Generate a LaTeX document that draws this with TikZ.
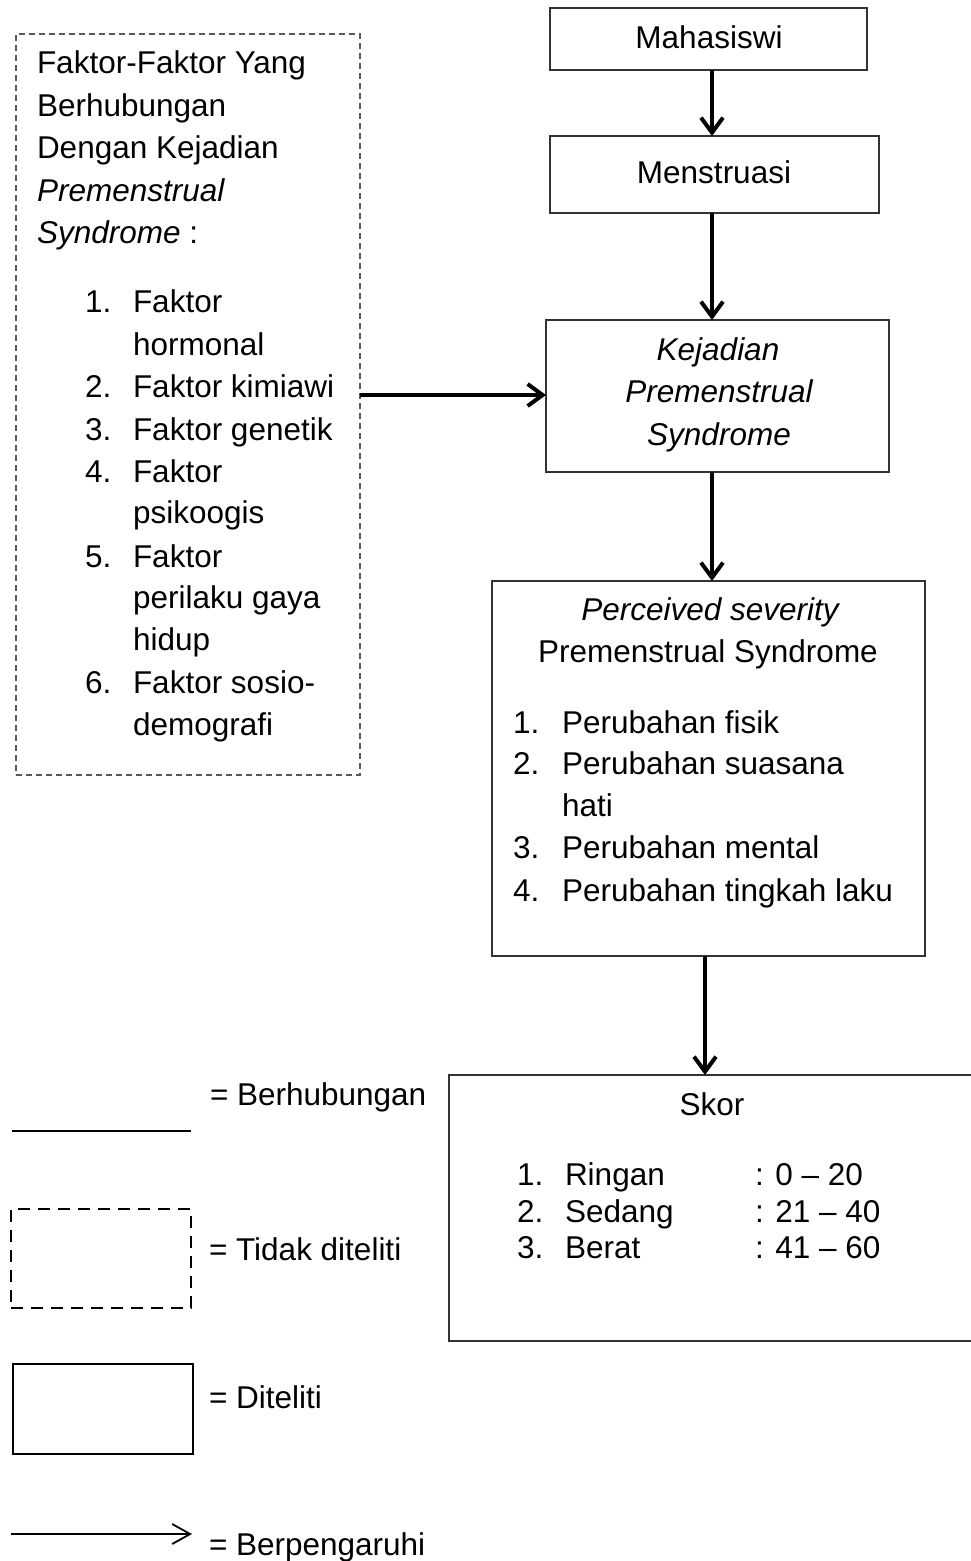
\documentclass[tikz,border=0pt]{standalone}
\usepackage{fontspec}
\setmainfont{Liberation Sans}
\usetikzlibrary{arrows.meta}
\begin{document}
\begin{tikzpicture}[x=1pt,y=-1pt,
  every node/.style={inner sep=0pt, outer sep=0pt},
  txt/.style={anchor=base west, font=\fontsize{31.5}{42.5}\selectfont},
  ctxt/.style={anchor=base, font=\fontsize{31.5}{42.5}\selectfont},
  box/.style={draw=black!80, line width=1.4pt, anchor=north west},
  dbox/.style={draw=black!65, line width=1.3pt, dash pattern=on 6pt off 4pt, anchor=north west},
  legdbox/.style={draw=black, line width=2pt, dash pattern=on 12pt off 8pt, anchor=north west},
  legbox/.style={draw=black, line width=2.2pt, anchor=north west},
  arr/.style={line width=4pt, -{Straight Barb[length=15pt,width=22pt]}},
  legarr/.style={line width=1.8pt, -{Straight Barb[length=18pt,width=20pt]}},
  legline/.style={line width=1.8pt}
]
\useasboundingbox (0,0) rectangle (971,1561);
\clip (0,0) rectangle (971,1561);
\fill[white] (0,0) rectangle (971,1561);

% boxes
\node[dbox, minimum width=344pt, minimum height=741pt] (fak) at (16,34) {};
\node[box, minimum width=317pt, minimum height=62pt] (mah) at (550,8) {};
\node[box, minimum width=329pt, minimum height=77pt] (men) at (550,136) {};
\node[box, minimum width=343pt, minimum height=152pt] (kej) at (546,320) {};
\node[box, minimum width=433pt, minimum height=375pt] (per) at (492,581) {};
\node[box, minimum width=540pt, minimum height=266pt] (skor) at (449,1075) {};

% box texts
\node[ctxt] (tmah) at (709,48) {Mahasiswi};
\node[ctxt] (tmen) at (714,183) {Menstruasi};
\node[ctxt] (tkej1) at (718,360) {\itshape Kejadian};
\node[ctxt] (tkej2) at (719,402) {\itshape Premenstrual};
\node[ctxt] (tkej3) at (719,445) {\itshape Syndrome};

\node[ctxt] (tper1) at (710,620) {\itshape Perceived severity};
\node[ctxt] (tper2) at (708,662) {Premenstrual Syndrome};
\node[txt] (pn1) at (513,733) {1.};
\node[txt] (pt1) at (562,733) {Perubahan fisik};
\node[txt] (pn2) at (513,774) {2.};
\node[txt] (pt2) at (562,774) {Perubahan suasana};
\node[txt] (pt2b) at (562,816) {hati};
\node[txt] (pn3) at (513,858) {3.};
\node[txt] (pt3) at (562,858) {Perubahan mental};
\node[txt] (pn4) at (513,901) {4.};
\node[txt] (pt4) at (562,901) {Perubahan tingkah laku};

\node[ctxt] (tskor) at (712,1115) {Skor};
\node[txt] (sn1) at (517,1185) {1.};
\node[txt] (st1) at (565,1185) {Ringan};
\node[txt] (sv1) at (755,1185) {: 0 – 20};
\node[txt] (sn2) at (517,1222) {2.};
\node[txt] (st2) at (565,1222) {Sedang};
\node[txt] (sv2) at (755,1222) {: 21 – 40};
\node[txt] (sn3) at (517,1258) {3.};
\node[txt] (st3) at (565,1258) {Berat};
\node[txt] (sv3) at (755,1258) {: 41 – 60};

% left box texts
\node[txt] (f1) at (37,73) {Faktor-Faktor Yang};
\node[txt] (f2) at (37,116) {Berhubungan};
\node[txt] (f3) at (37,158) {Dengan Kejadian};
\node[txt] (f4) at (37,201) {\itshape Premenstrual};
\node[txt] (f5) at (37,243) {\textit{Syndrome} :};
\node[txt] (fn1) at (85,312) {1.};
\node[txt] (ft1) at (133,312) {Faktor};
\node[txt] (ft1b) at (133,355) {hormonal};
\node[txt] (fn2) at (85,397) {2.};
\node[txt] (ft2) at (133,397) {Faktor kimiawi};
\node[txt] (fn3) at (85,440) {3.};
\node[txt] (ft3) at (133,440) {Faktor genetik};
\node[txt] (fn4) at (85,482) {4.};
\node[txt] (ft4) at (133,482) {Faktor};
\node[txt] (ft4b) at (133,523) {psikoogis};
\node[txt] (fn5) at (85,567) {5.};
\node[txt] (ft5) at (133,567) {Faktor};
\node[txt] (ft5b) at (133,608) {perilaku gaya};
\node[txt] (ft5c) at (133,650) {hidup};
\node[txt] (fn6) at (85,693) {6.};
\node[txt] (ft6) at (133,693) {Faktor sosio-};
\node[txt] (ft6b) at (133,735) {demografi};

% connectors
\coordinate (ax) at (712,0);
\coordinate (bx) at (705,0);
\coordinate (ay) at (0,395);
\draw[arr] (ax |- mah.south) -- (ax |- men.north);
\draw[arr] (ax |- men.south) -- (ax |- kej.north);
\draw[arr] (ax |- kej.south) -- (ax |- per.north);
\draw[arr] (bx |- per.south) -- (bx |- skor.north);
\draw[arr] (fak.east |- ay) -- (kej.west |- ay);

% legend
\coordinate (la) at (12,1131);
\coordinate (lb) at (191,1131);
\draw[legline] (la) -- (lb);
\node[txt] (lt1) at (210,1105) {= Berhubungan};
\node[legdbox, minimum width=180pt, minimum height=99pt] (ld) at (11,1209) {};
\node[txt] (lt2) at (209,1260) {= Tidak diteliti};
\node[legbox, minimum width=180pt, minimum height=90pt] (ls) at (13,1364) {};
\node[txt] (lt3) at (209,1408) {= Diteliti};
\coordinate (lc) at (11,1534);
\coordinate (ld2) at (192,1534);
\draw[legarr] (lc) -- (ld2);
\node[txt] (lt4) at (209,1555) {= Berpengaruhi};
\end{tikzpicture}
\end{document}
